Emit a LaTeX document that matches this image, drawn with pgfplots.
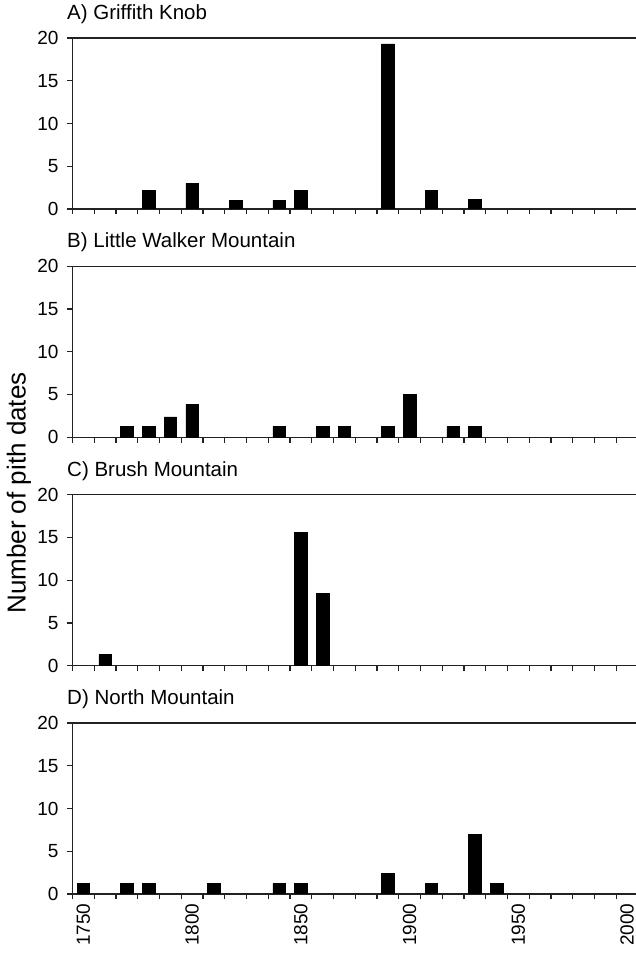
\documentclass[border=0pt]{standalone}
\usepackage{pgfplots}
\pgfplotsset{compat=1.18}
\usepackage{fontspec}
\setmainfont{Liberation Sans}

\definecolor{axisgray}{HTML}{222222}

\pgfplotsset{
  panel/.style={
    scale only axis, width=565.5pt, height=171pt,
    xmin=1745, xmax=2005, ymin=0, ymax=20,
    ytick={0,5,10,15,20},
    xtick={1745,1755,...,2005},
    xticklabels={},
    tick align=outside, xtick pos=bottom, ytick pos=left,
    major tick length=5.5pt,
    axis line style={line width=1.4pt, axisgray},
    every tick/.style={line width=1.2pt, axisgray},
    ybar, bar width=5.8, bar shift=0pt,
    /pgf/number format/assume math mode=true,
    yticklabel style={font=\fontsize{19}{19}\selectfont, xshift=-5pt},
    title style={at={(0,1)}, anchor=base west, xshift=-5.5pt, yshift=12.3pt,
      inner sep=0pt, font=\fontsize{20.5}{21}\selectfont},
  },
  pithbar/.style={fill=black, draw=black, line width=0.4pt},
}

\begin{document}
\begin{tikzpicture}
\useasboundingbox (0,0) rectangle (636pt,953pt);
\clip (0,0) rectangle (636pt,953pt);

% A) Griffith Knob
\begin{axis}[panel, at={(72.5pt,744pt)}, anchor=south west, title={A) Griffith Knob}]
\addplot[pithbar] coordinates {(1780,2.15) (1800,3.0) (1820,1.0) (1840,1.0) (1850,2.15) (1890,19.3) (1910,2.15) (1930,1.1)};
\end{axis}

% B) Little Walker Mountain
\begin{axis}[panel, at={(72.5pt,515.7pt)}, anchor=south west, title={B) Little Walker Mountain}]
\addplot[pithbar] coordinates {(1770,1.25) (1780,1.25) (1790,2.4) (1800,3.87) (1840,1.25) (1860,1.25) (1870,1.25) (1890,1.25) (1900,5.04) (1920,1.25) (1930,1.25)};
\end{axis}

% C) Brush Mountain
\begin{axis}[panel, at={(72.5pt,287.3pt)}, anchor=south west, title={C) Brush Mountain}]
\addplot[pithbar] coordinates {(1760,1.29) (1850,15.6) (1860,8.44)};
\end{axis}

% D) North Mountain
\begin{axis}[panel, at={(72.5pt,59pt)}, anchor=south west, title={D) North Mountain},
  extra x ticks={1750,1800,1850,1900,1950,2000},
  extra x tick labels={1750,1800,1850,1900,1950,2000},
  extra x tick style={major tick length=0pt,
    xticklabel style={rotate=90, anchor=east, xshift=-6pt, font=\fontsize{19}{19}\selectfont}}]
\addplot[pithbar] coordinates {(1750,1.25) (1770,1.25) (1780,1.25) (1810,1.25) (1840,1.25) (1850,1.25) (1890,2.42) (1910,1.25) (1930,7.0) (1940,1.25)};
\end{axis}

\node[rotate=90, font=\fontsize{26}{26}\selectfont] at (19pt,460pt) {Number of pith dates};
\end{tikzpicture}
\end{document}
